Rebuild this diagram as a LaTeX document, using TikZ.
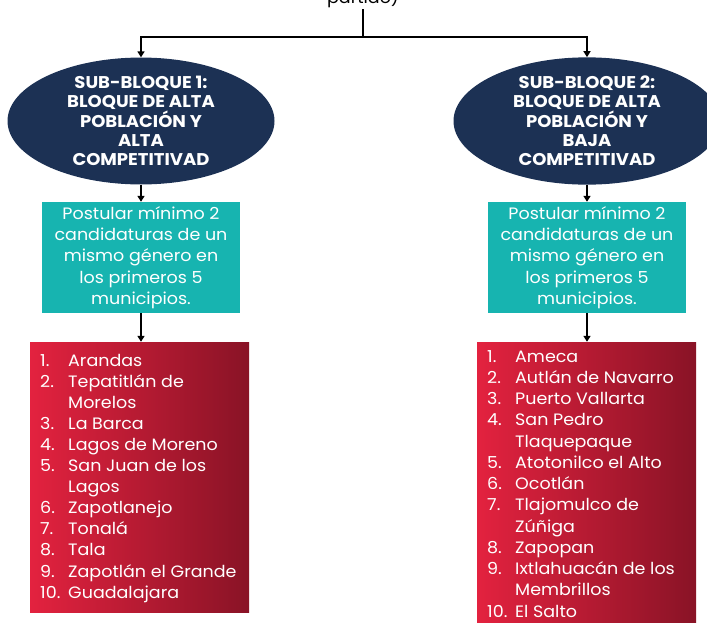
\documentclass[tikz,border=0pt]{standalone}
\usepackage{fontspec}
\setmainfont{Poppins}[FakeStretch=1.06]
\usetikzlibrary{shapes.geometric,arrows.meta}
\definecolor{navy}{HTML}{1C3154}
\definecolor{teal}{HTML}{17B4B0}
\definecolor{redL}{HTML}{E3223F}
\definecolor{redR}{HTML}{891326}
\tikzset{
  oval/.style={ellipse, fill=navy, minimum width=267pt, minimum height=118pt, inner sep=0pt,
    text=white, align=center, font=\bfseries\fontsize{17}{19.3}\selectfont},
  tealbox/.style={rectangle, fill=teal, minimum width=198pt, minimum height=111pt, inner sep=0pt,
    text=white, align=center, font=\fontsize{16.5}{21.3}\selectfont},
  redbox/.style={rectangle, left color=redL, right color=redR, minimum width=219pt, inner sep=0pt},
  listtxt/.style={anchor=base west, inner sep=0pt, text=white, font=\fontsize{16.5}{20}\selectfont},
  conn/.style={line width=1.6pt, black},
  arr/.style={conn, -{Triangle[length=6pt,width=7pt]}}
}
\begin{document}
\begin{tikzpicture}[x=1pt,y=-1pt]
\useasboundingbox (0,0) rectangle (707,622);
\clip (0,0) rectangle (707,622);
\node[anchor=base, inner sep=0pt, font=\fontsize{16.5}{20}\selectfont] (top) at (363,3) {partido)};
\coordinate (split) at (363,37);
\node[oval] (e1) at (141,121) {SUB-BLOQUE 1:\\BLOQUE DE ALTA\\POBLACIÓN Y\\ALTA\\COMPETITIVAD};
\node[oval] (e2) at (587,121) {SUB-BLOQUE 2:\\BLOQUE DE ALTA\\POBLACIÓN Y\\BAJA\\COMPETITIVAD};
\node[tealbox] (t1) at (141,257.5) {Postular mínimo 2\\candidaturas de un\\mismo género en\\los primeros 5\\municipios.};
\node[tealbox] (t2) at (587,257.5) {Postular mínimo 2\\candidaturas de un\\mismo género en\\los primeros 5\\municipios.};
\node[redbox, minimum height=270pt] (r1) at (139.5,477) {};
\node[redbox, minimum height=290pt] (r2) at (586.5,487) {};
\draw[conn] (363,9) -- (split);
\draw[arr] (split) -| (e1.north);
\draw[arr] (split) -| (e2.north);
\draw[arr] (e1.south) -- (t1.north);
\draw[arr] (e2.south) -- (t2.north);
\draw[arr] (t1.south) -- (t1.south |- r1.north);
\draw[arr] (t2.south) -- (t2.south |- r2.north);
\foreach \n/\t [count=\i] in {1./Arandas, 2./Tepatitlán de, /Morelos, 3./La Barca, 4./Lagos de Moreno, 5./San Juan de los, /Lagos, 6./Zapotlanejo, 7./Tonalá, 8./Tala, 9./Zapotlán el Grande, 10./Guadalajara}{
  \node[listtxt] (ln\i) at (40,{366+21.1*(\i-1)}) {\n};
  \node[listtxt] (lt\i) at (68,{366+21.1*(\i-1)}) {\t};
}
\foreach \n/\t [count=\i] in {1./Ameca, 2./Autlán de Navarro, 3./Puerto Vallarta, 4./San Pedro, /Tlaquepaque, 5./Atotonilco el Alto, 6./Ocotlán, 7./Tlajomulco de, /Zúñiga, 8./Zapopan, 9./Ixtlahuacán de los, /Membrillos, 10./El Salto}{
  \node[listtxt] (rn\i) at (487,{362+21.25*(\i-1)}) {\n};
  \node[listtxt] (rt\i) at (515,{362+21.25*(\i-1)}) {\t};
}
\end{tikzpicture}
\end{document}
